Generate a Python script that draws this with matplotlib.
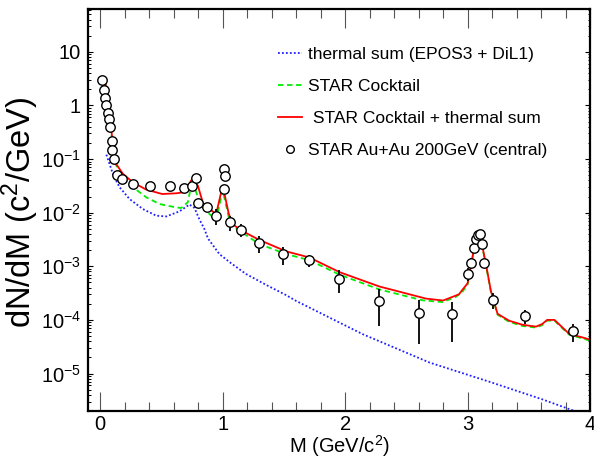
import matplotlib
matplotlib.use('Agg')
import matplotlib.pyplot as plt
from matplotlib.lines import Line2D
from matplotlib.ticker import MultipleLocator, LogLocator, NullFormatter

plt.rcParams['font.family'] = ['Liberation Sans', 'DejaVu Sans']
plt.rcParams['mathtext.default'] = 'regular'

# STAR Au+Au 200GeV (central) dielectron data
data_m = [0.016, 0.027, 0.035, 0.046, 0.062, 0.070, 0.082, 0.092, 0.097, 0.109,
          0.139, 0.18, 0.266, 0.405, 0.566, 0.68, 0.75, 0.778, 0.80, 0.87, 0.947,
          1.007, 1.012, 1.017, 1.06, 1.148, 1.30, 1.496, 1.709, 1.953, 2.274,
          2.60, 2.873, 3.0, 3.028, 3.055, 3.07, 3.088, 3.10, 3.118, 3.137, 3.205,
          3.472, 3.858]
data_y = [2.93, 1.97, 1.37, 1.0, 0.73, 0.55, 0.39, 0.22, 0.148, 0.10,
          0.051, 0.043, 0.035, 0.031, 0.031, 0.029, 0.032, 0.044, 0.015, 0.0125, 0.0087,
          0.028, 0.064, 0.048, 0.0066, 0.0048, 0.0027, 0.00168, 0.00131, 0.00058, 0.000226,
          0.000137, 0.000128, 0.00073, 0.00115, 0.0022, 0.0033, 0.0039, 0.0040, 0.0026, 0.00113, 0.000237,
          0.000119, 0.0000624]
data_err = [0.1, 0.07, 0.05, 0.04, 0.03, 0.025, 0.02, 0.012, 0.008, 0.006,
            0.004, 0.004, 0.003, 0.003, 0.003, 0.003, 0.004, 0.005, 0.002, 0.002, 0.0028,
            0.004, 0.006, 0.005, 0.002, 0.0013, 0.0009, 0.0006, 0.00035, 0.00026, 0.00015,
            0.000102, 0.00009, 0.0002, 0.00025, 0.0003, 0.0003, 0.0003, 0.0003, 0.00025, 0.00022, 0.00008,
            0.000035, 0.000023]

# STAR cocktail
cocktail_m = [0.04, 0.076, 0.10, 0.12, 0.144, 0.185, 0.266, 0.375, 0.484, 0.593, 0.66,
              0.715, 0.743, 0.77, 0.797, 0.838, 0.906, 0.947, 1.0, 1.05, 1.096, 1.137,
              1.30, 1.518, 1.709, 1.953, 2.28, 2.633, 2.797, 2.906, 2.96, 3.0, 3.03,
              3.055, 3.08, 3.11, 3.15, 3.19, 3.245, 3.34, 3.45, 3.56, 3.61, 3.65, 3.71,
              3.76, 3.83, 3.94, 4.0]
cocktail_y = [2.8, 0.65, 0.18, 0.085, 0.066, 0.046, 0.030, 0.0194, 0.0145, 0.0129, 0.0122,
              0.0156, 0.032, 0.030, 0.0194, 0.0125, 0.0088, 0.0073, 0.026, 0.0082, 0.0053, 0.0046,
              0.0026, 0.00169, 0.00130, 0.00070, 0.00037, 0.000232, 0.000215, 0.00027, 0.00034, 0.00046, 0.00105,
              0.0022, 0.0033, 0.0030, 0.00105, 0.00034, 0.000125, 0.000092, 0.000077, 0.000072, 0.00008, 0.000097, 0.000097,
              0.000075, 0.000053, 0.000045, 0.000041]

# STAR cocktail + thermal sum
total_m = [0.04, 0.076, 0.10, 0.13, 0.185, 0.266, 0.375, 0.506, 0.62, 0.70, 0.742,
           0.756, 0.797, 0.843, 0.947, 1.0, 1.05, 1.083, 1.148, 1.30, 1.518, 1.709,
           1.953, 2.28, 2.66, 2.80, 2.93, 2.96, 3.0, 3.03, 3.055, 3.08, 3.11, 3.15,
           3.19, 3.245, 3.34, 3.45, 3.56, 3.61, 3.65, 3.71, 3.76, 3.83, 3.94, 4.0]
total_y = [2.9, 0.71, 0.22, 0.081, 0.053, 0.037, 0.027, 0.0223, 0.023, 0.0243, 0.040,
           0.041, 0.032, 0.0141, 0.0095, 0.032, 0.0095, 0.0061, 0.0047, 0.0031, 0.0019, 0.00146,
           0.00078, 0.00042, 0.00025, 0.00023, 0.00030, 0.00037, 0.00048, 0.0011, 0.0023, 0.0034, 0.0031, 0.0011,
           0.00035, 0.00013, 0.0000965, 0.000081, 0.000075, 0.000084, 0.0001, 0.0001, 0.000078, 0.000055, 0.000047, 0.000043]

# thermal sum (EPOS3 + DiL1)
thermal_m = [0.05, 0.076, 0.103, 0.157, 0.239, 0.348, 0.457, 0.539, 0.647, 0.729,
             0.77, 0.81, 0.85, 0.88, 0.974, 1.071, 1.19, 1.355, 1.518, 1.60, 2.145,
             2.69, 3.164, 3.61, 3.90]
thermal_y = [0.121, 0.081, 0.053, 0.030, 0.018, 0.0117, 0.0088, 0.0085, 0.0106, 0.0142,
             0.0122, 0.0075, 0.0050, 0.0033, 0.00168, 0.00113, 0.00072, 0.00045, 0.00029, 0.000226, 0.000054,
             0.000016, 0.0000072, 0.0000033, 0.0000019]

labels = ['thermal sum (EPOS3 + DiL1)', 'STAR Cocktail',
          ' STAR Cocktail + thermal sum', 'STAR Au+Au 200GeV (central)']

fig = plt.figure(figsize=(5.94, 4.58), dpi=100)
ax = fig.add_axes([88 / 594, 1 - 411 / 458, 502 / 594, 402 / 458])

h_th, = ax.plot(thermal_m, thermal_y, color='#2020ff', ls=(0, (1, 1.2)), lw=1.3)
h_ck, = ax.plot(cocktail_m, cocktail_y, color='#00ee00', ls=(0, (3, 2)), lw=1.3)
h_tot, = ax.plot(total_m, total_y, color='#ff0000', lw=1.3)
ax.errorbar(data_m, data_y, yerr=data_err, fmt='o', ms=6.8, mfc='white', mec='black',
            mew=1.0, ecolor='black', elinewidth=1.3, capsize=0)
h_dat = Line2D([], [], ls='none', marker='o', ms=5.5, mfc='white', mec='black', mew=1.0)

ax.set_yscale('log')
ax.set_xlim(-0.1, 4.0)
ax.set_ylim(2e-6, 63)

ax.xaxis.set_major_locator(MultipleLocator(1))
ax.xaxis.set_minor_locator(MultipleLocator(0.2))
ytk = [1e-5, 1e-4, 1e-3, 1e-2, 1e-1, 1, 10]
ax.set_yticks(ytk)
ax.set_yticklabels(['$10^{-5}$', '$10^{-4}$', '$10^{-3}$', '$10^{-2}$', '$10^{-1}$', '1', '10'])
ax.yaxis.set_minor_locator(LogLocator(base=10, subs=range(2, 10), numticks=20))
ax.yaxis.set_minor_formatter(NullFormatter())

ax.tick_params(axis='x', which='major', direction='in', length=13.5, width=0.8,
               color='#555555', top=True, labelsize=14.5, pad=3)
ax.tick_params(axis='x', which='minor', direction='in', length=6.8, width=0.8,
               color='#555555', top=True)
ax.tick_params(axis='y', which='major', direction='in', length=3.6, width=0.8,
               right=True, labelsize=14.5, pad=5)
ax.tick_params(axis='y', which='minor', direction='in', length=1.8, width=0.7,
               right=True)
for s in ax.spines.values():
    s.set_linewidth(1.6)

ax.set_xlabel('M (GeV/c$^{2}$)', fontsize=14.5, labelpad=-1)
ax.set_ylabel('dN/dM (c$^{2}$/GeV)', fontsize=23.5)
ax.yaxis.set_label_coords(-0.094, 0.495)

ax.legend([h_th, h_ck, h_tot, h_dat], labels,
          loc='upper left', bbox_to_anchor=(278 / 594, 1 - 47 / 458),
          bbox_transform=fig.transFigure, frameon=False, fontsize=12.5,
          handlelength=1.4, handletextpad=0.3, labelspacing=0.97,
          borderpad=0, borderaxespad=0)

fig.savefig('out.png', dpi=100)
